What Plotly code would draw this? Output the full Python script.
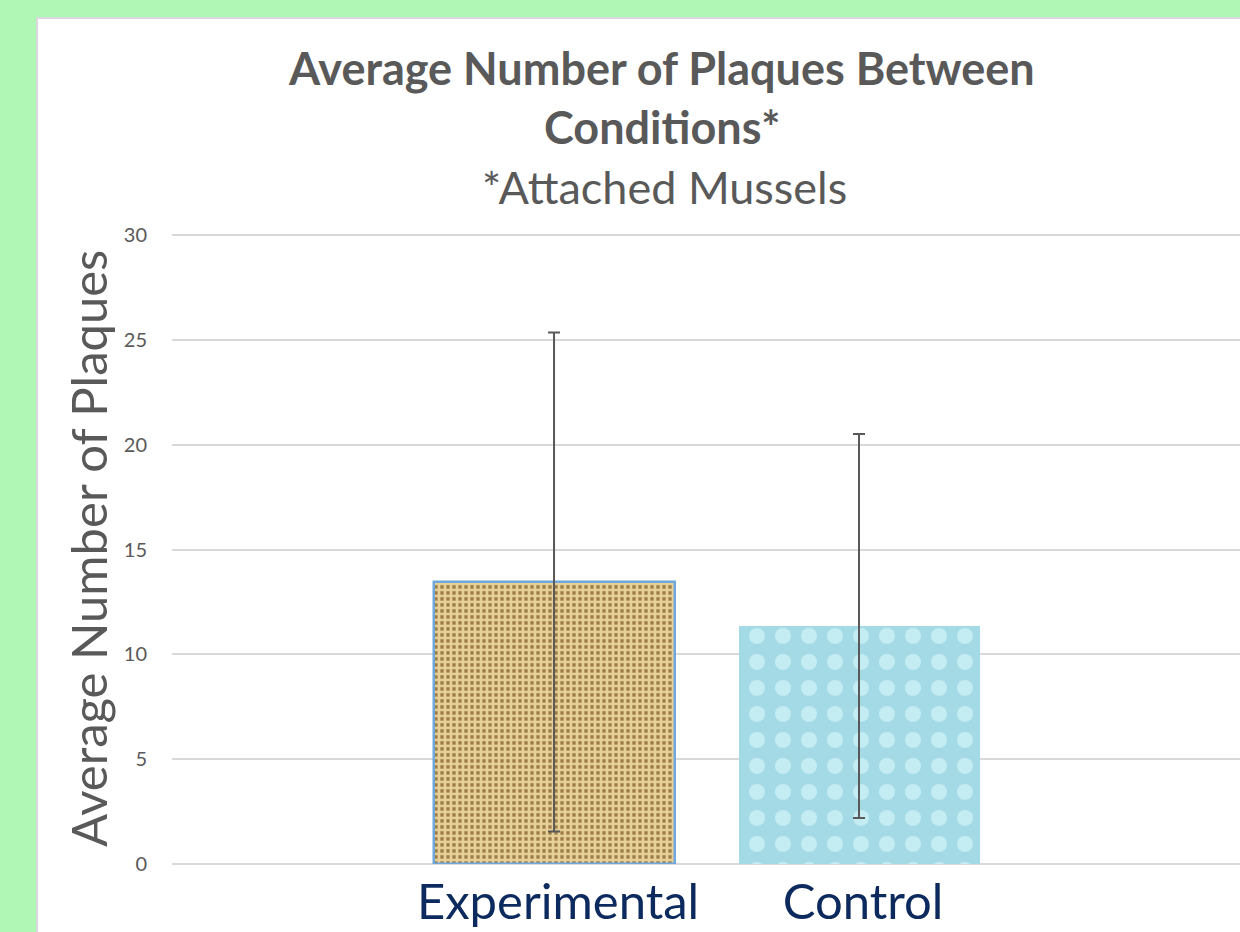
import plotly.graph_objects as go

categories = ["Experimental", "Control"]
means = [13.45, 11.35]
errors = [11.9, 9.15]
y_ticks = [0, 5, 10, 15, 20, 25, 30]

title_lines = ["<b>Average Number of Plaques Between</b>", "<b>Conditions*</b>"]
subtitle = "*Attached Mussels"
y_title = "Average Number of Plaques"

W, H = 1240, 932
FONT = "Lato, 'Open Sans', sans-serif"
GRAY = "#595959"
Y_MAX = 30.1
PX_PER_UNIT = (864 - 235) / 30.0

fig = go.Figure()

fig.add_trace(go.Bar(
    x=[categories[0]], y=[means[0]],
    error_y=dict(type="data", array=[errors[0]], color=GRAY, thickness=2, width=6),
    width=0.79,
    marker=dict(
        color="#c4a266",
        line=dict(color="#6fa8dc", width=2.5),
        pattern=dict(shape="+", bgcolor="#9c7c46", fgcolor="#e8d199", size=6, solidity=0.7, fillmode="replace"),
    ),
    showlegend=False,
))
fig.add_trace(go.Bar(
    x=[categories[1]], y=[means[1]],
    error_y=dict(type="data", array=[errors[1]], color=GRAY, thickness=2, width=6),
    width=0.79,
    marker=dict(
        color="#a8dde6",
        line=dict(width=0),
        pattern=dict(shape=".", bgcolor="#a4dae5", fgcolor="#c4ecf3", size=26, solidity=0.3, fillmode="replace"),
    ),
    showlegend=False,
))

# white panel
fig.add_shape(type="rect", xref="paper", yref="paper",
              x0=37 / W, x1=1.02, y0=-0.02, y1=(H - 18) / H,
              fillcolor="white", line=dict(color="#dcd8e0", width=2), layer="below")

top_px = 864 - Y_MAX * PX_PER_UNIT

fig.update_layout(
    width=W, height=H,
    margin=dict(l=0, r=0, t=0, b=0, autoexpand=False),
    paper_bgcolor="#b0f6b4",
    plot_bgcolor="white",
    font=dict(family=FONT, color=GRAY),
    bargap=0,
    xaxis=dict(
        domain=[172 / W, 1.0],
        type="category",
        categoryorder="array", categoryarray=categories,
        range=[-1.2525, 2.249],
        showgrid=False, zeroline=False, showline=False,
        ticks="", automargin=False,
        tickfont=dict(size=49, color="#0d2a5e", family=FONT),
        ticklabelstandoff=5,
        ticklabelshift=4,
    ),
    yaxis=dict(
        domain=[(H - 864) / H, (H - top_px) / H],
        range=[0, Y_MAX],
        tickvals=y_ticks,
        showgrid=True, gridcolor="#d9d9d9", gridwidth=1.5,
        zeroline=True, zerolinecolor="#d9d9d9", zerolinewidth=1.5,
        showline=False, ticks="", automargin=False,
        tickfont=dict(size=20, color=GRAY, family=FONT),
        ticklabelstandoff=24,
    ),
)

fig.add_annotation(text=title_lines[0], xref="paper", yref="paper",
                   x=662 / W, y=(H - 68) / H, xanchor="center", yanchor="middle",
                   showarrow=False, font=dict(size=45, color=GRAY, family=FONT))
fig.add_annotation(text=title_lines[1], xref="paper", yref="paper",
                   x=662 / W, y=(H - 127) / H, xanchor="center", yanchor="middle",
                   showarrow=False, font=dict(size=45, color=GRAY, family=FONT))
fig.add_annotation(text=subtitle, xref="paper", yref="paper",
                   x=664 / W, y=(H - 187) / H, xanchor="center", yanchor="middle",
                   showarrow=False, font=dict(size=45, color=GRAY, family=FONT))
fig.add_annotation(text=y_title, xref="paper", yref="paper",
                   x=88 / W, y=(H - 549) / H, xanchor="center", yanchor="middle",
                   textangle=-90, showarrow=False,
                   font=dict(size=49, color=GRAY, family=FONT))

fig.write_html("out.html", config={"displayModeBar": False},
               post_script="document.body.style.margin='0';document.body.style.overflow='hidden';")
